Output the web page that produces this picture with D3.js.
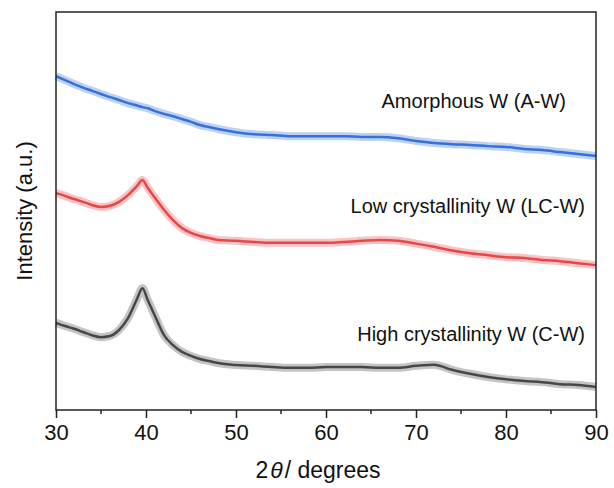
<!DOCTYPE html>
<html lang="en">
  <head>
   <meta http-equiv="Content-Type" content="text/html;charset=utf-8">
   <title>XRD patterns</title>
   <script type="text/javascript" src="https://cdn.jsdelivr.net/npm/d3@7"></script>
   <style>
     body { margin: 0; background: white; }
     text { font-family: "Liberation Sans", Arial, sans-serif; fill: #111; }
   </style>
  </head>

  <body>
<script>

// 2theta positions (degrees) and intensities (a.u.)
var twoTheta = [30, 31, 32, 33, 34, 35, 36, 37, 38, 39, 39.6, 40.2, 41, 42, 43, 44, 45, 46, 47, 48,
                50, 52, 54, 56, 58, 60, 62, 64, 66, 68, 70, 72, 74, 76, 78, 80, 82, 84, 86, 88, 90]

var amorphous = [83.9, 82.9, 81.9, 81.0, 80.2, 79.4, 78.6, 77.9, 77.1, 76.5, 76.1, 75.8, 75.1, 74.4, 73.8, 73.1, 72.4, 71.6, 71.1, 70.6,
                 69.8, 69.3, 69.1, 68.8, 68.8, 68.8, 68.8, 68.6, 68.6, 68.3, 67.6, 67.1, 66.8, 66.6, 66.3, 66.1, 65.6, 65.3, 64.8, 64.3, 63.8]

var lowCryst = [54.5, 53.8, 53.0, 52.3, 51.5, 51.0, 51.3, 52.3, 54.0, 56.3, 57.8, 55.8, 53.3, 50.3, 47.7, 45.7, 44.5, 43.7, 43.2, 42.7,
                42.5, 42.2, 42.0, 42.0, 42.0, 42.0, 42.2, 42.5, 42.7, 42.5, 41.8, 41.0, 40.1, 39.4, 38.9, 38.4, 38.2, 37.7, 37.4, 36.9, 36.4]

var highCryst = [21.9, 21.1, 20.4, 19.6, 18.8, 18.3, 18.6, 20.1, 23.1, 27.9, 30.6, 27.6, 23.6, 18.8, 16.3, 14.6, 13.6, 12.8, 12.3, 11.8,
                 11.3, 11.1, 10.8, 10.6, 10.6, 10.8, 10.8, 10.8, 10.6, 10.6, 11.1, 11.4, 10.1, 9.1, 8.3, 7.7, 7.3, 7.0, 6.5, 6.3, 5.8]

var seriesNames = ["Amorphous W (A-W)", "Low crystallinity W (LC-W)", "High crystallinity W (C-W)"]
var seriesColors = ["#2566d8", "#e8383d", "#3a3a3a"]
var xTicks = [30, 40, 50, 60, 70, 80, 90]

var width = 614, height = 488
// plot box (avoid the name "top", it is taken by window.top)
var plotLeft = 56, plotRight = 596, plotTop = 12, plotBottom = 410

var svg = d3.select("body").append("svg")
  .attr("width", width)
  .attr("height", height)

var x = d3.scaleLinear().domain([30, 90]).range([plotLeft, plotRight])
var y = d3.scaleLinear().domain([0, 100]).range([plotBottom, plotTop])

var allSeries = [amorphous, lowCryst, highCryst]

var line = d3.line()
  .x(function(d, i){ return x(twoTheta[i]) })
  .y(function(d){ return y(d) })
  .curve(d3.curveMonotoneX)

// the traces are noisy, so draw a soft band and then the line on top
allSeries.forEach(function(s, k){
  svg.append("path")
    .attr("d", line(s))
    .attr("fill", "none")
    .attr("stroke", seriesColors[k])
    .attr("stroke-width", 8)
    .attr("stroke-opacity", 0.3)
  svg.append("path")
    .attr("d", line(s))
    .attr("fill", "none")
    .attr("stroke", seriesColors[k])
    .attr("stroke-width", 2.5)
    .attr("stroke-opacity", 0.9)
})

// series labels
var labelX = [566, 585, 585]
var labelY = [108, 213, 341]
svg.selectAll(".lab").data(seriesNames).enter().append("text")
  .attr("class", "lab")
  .attr("x", function(d, i){ return labelX[i] })
  .attr("y", function(d, i){ return labelY[i] })
  .attr("text-anchor", "end")
  .attr("font-size", 20)
  .text(function(d){ return d })

// bottom axis with minor ticks
var xAxis = d3.axisBottom(x).tickValues(xTicks).tickSize(8).tickSizeOuter(0).tickPadding(6)
var gx = svg.append("g").attr("transform", "translate(0," + plotBottom + ")").call(xAxis)
gx.select(".domain").remove()
gx.selectAll(".tick line").attr("stroke", "#222").attr("stroke-width", 1.5)
gx.selectAll(".tick text")
  .attr("font-size", 22)
  .attr("font-family", "Liberation Sans, Arial, sans-serif")
  .attr("fill", "#111")

var minor = d3.range(35, 90, 10)
svg.selectAll(".minor").data(minor).enter().append("line")
  .attr("x1", function(d){ return x(d) })
  .attr("x2", function(d){ return x(d) })
  .attr("y1", plotBottom)
  .attr("y2", plotBottom + 4)
  .attr("stroke", "#222")
  .attr("stroke-width", 1.5)

// frame
svg.append("rect")
  .attr("x", plotLeft)
  .attr("y", plotTop)
  .attr("width", plotRight - plotLeft)
  .attr("height", plotBottom - plotTop)
  .attr("fill", "none")
  .attr("stroke", "#222")
  .attr("stroke-width", 1.5)

// axis titles
var xt = svg.append("text")
  .attr("x", 318)
  .attr("y", 478)
  .attr("text-anchor", "middle")
  .attr("font-size", 23)
xt.append("tspan").text("2")
xt.append("tspan").attr("font-style", "italic").attr("dx", 2).text("\u03b8")
xt.append("tspan").attr("dx", 2).text("/ degrees")

svg.append("text")
  .attr("transform", "translate(32," + ((plotTop + plotBottom) / 2) + ") rotate(-90)")
  .attr("text-anchor", "middle")
  .attr("font-size", 22)
  .text("Intensity (a.u.)")

</script>
</body>
</html>
